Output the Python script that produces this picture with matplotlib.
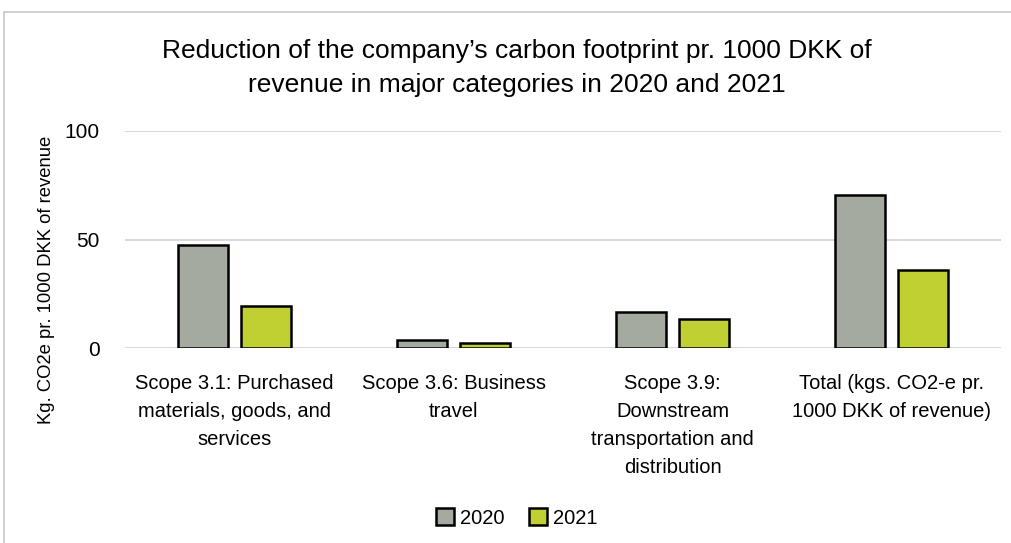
import numpy as np
import matplotlib.pyplot as plt
from matplotlib.patches import Rectangle

plt.rcParams['font.family'] = ['Liberation Sans', 'DejaVu Sans']

categories = ['Scope 3.1: Purchased\nmaterials, goods, and\nservices',
              'Scope 3.6: Business\ntravel',
              'Scope 3.9:\nDownstream\ntransportation and\ndistribution',
              'Total (kgs. CO2-e pr.\n1000 DKK of revenue)']
values_2020 = [47.6, 3.7, 16.7, 70.5]
values_2021 = [19.4, 2.4, 13.4, 35.9]
yticks = [0, 50, 100]

fig = plt.figure(figsize=(10.11, 5.43), dpi=100)
ax = fig.add_axes([125 / 1011, 1 - 348 / 543, 876 / 1011, 217 / 543])

x = np.arange(len(categories))
w = 0.23
gap = 0.055
ax.bar(x - (w + gap) / 2, values_2020, w, color='#a5aaa0', edgecolor='black',
       linewidth=1.8, label='2020', zorder=3)
ax.bar(x + (w + gap) / 2, values_2021, w, color='#c0d033', edgecolor='black',
       linewidth=1.8, label='2021', zorder=3)

ax.set_xlim(-0.5, len(categories) - 0.5)
ax.set_ylim(0, 100)
ax.set_yticks(yticks)
ax.yaxis.grid(True, color='#d9d9d9', linewidth=1.5)
ax.set_axisbelow(True)
for s in ax.spines.values():
    s.set_visible(False)
ax.tick_params(axis='both', length=0, labelsize=15)
ax.tick_params(axis='y', pad=18)
ax.set_xticks(x)
ax.set_xticklabels(categories, fontsize=14.5, linespacing=1.6, va='top')
ax.tick_params(axis='x', pad=19)

fig.text(47 / 1011, 1 - 280 / 543, 'Kg. CO2e pr. 1000 DKK of revenue', rotation=90,
         ha='center', va='center', fontsize=13.3)
fig.text(517 / 1011, 1 - 68 / 543,
         'Reduction of the company\u2019s carbon footprint pr. 1000 DKK of\nrevenue in major categories in 2020 and 2021',
         ha='center', va='center', fontsize=19, linespacing=1.5)

fig.legend(loc='center', bbox_to_anchor=(517 / 1011, 1 - 518 / 543), ncol=2, frameon=False,
           fontsize=14.5, handlelength=0.9, handleheight=0.9, handletextpad=0.3,
           columnspacing=1.2)

fig.patches.append(Rectangle((4 / 1011, -0.1), 1.1, 1.1 - 12 / 543, transform=fig.transFigure,
                             fill=False, edgecolor='#c8c8c8', linewidth=1.2))

fig.savefig('out.png', dpi=100)
